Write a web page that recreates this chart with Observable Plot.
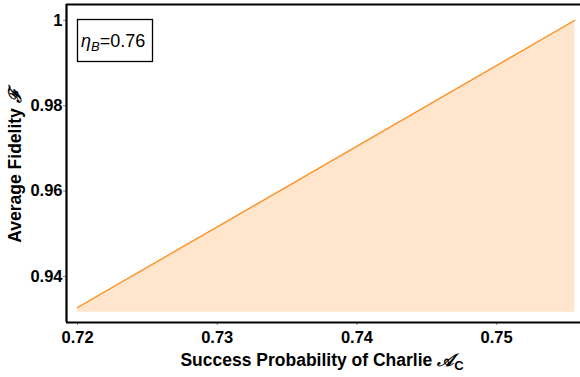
<!DOCTYPE html>
<html>
<head>
<meta charset="utf-8">
<script src="https://cdn.jsdelivr.net/npm/d3@7"></script>
<script src="https://cdn.jsdelivr.net/npm/@observablehq/plot@0.6"></script>
<style>
  html, body { margin: 0; padding: 0; background: #fff; }
  #chart { position: relative; width: 580px; height: 377px; }
  svg { font-family: "Liberation Sans", Arial, sans-serif; }
</style>
</head>
<body>
<div id="chart"></div>
<script>
// Data
const successProb = [0.72, 0.7556];
const fidelity = [0.9327, 1.0];
const fillBase = 0.9316;
const xTicks = [0.72, 0.73, 0.74, 0.75];
const yTicks = [0.94, 0.96, 0.98, 1];
const yTickLabels = ["0.94", "0.96", "0.98", "1"];
const legendLabel = { sym: "η", sub: "B", rest: "=0.76" };

const xDomain = [0.71921, 0.7560];
const yDomain = [0.9292, 1.0037];

const rows = successProb.map((x, i) => ({ x, y: fidelity[i] }));

const plot = Plot.plot({
  width: 580,
  height: 377,
  marginLeft: 66,
  marginRight: 0,
  marginTop: 4,
  marginBottom: 55,
  style: { fontFamily: "Liberation Sans, Arial, sans-serif", background: "#fff" },
  x: { domain: xDomain, label: null, axis: null },
  y: { domain: yDomain, label: null, axis: null },
  marks: [
    Plot.areaY(rows, { x: "x", y1: fillBase, y2: "y", fill: "#fee5cc" }),
    Plot.line(rows, { x: "x", y: "y", stroke: "#ff8c1a", strokeWidth: 1.3 }),
    Plot.axisX(xTicks, {
      tickSize: 3, tickFormat: d => String(d), stroke: "#888",
      fontSize: 16.5, fontWeight: "bold", fill: "#000", tickPadding: 6, label: null
    }),
    Plot.axisY(yTicks, {
      tickSize: 3, tickFormat: (d, i) => yTickLabels[i], stroke: "#888",
      fontSize: 16.5, fontWeight: "bold", fill: "#000", tickPadding: 1, label: null
    }),
    Plot.ruleX([xDomain[0]], { stroke: "#000", strokeWidth: 2.2 }),
    Plot.ruleY([yDomain[0]], { stroke: "#000", strokeWidth: 2.2 }),
    Plot.ruleY([yDomain[1]], { stroke: "#000", strokeWidth: 2.2 })
  ]
});

document.getElementById("chart").appendChild(plot);

const svg = d3.select(plot);
// x axis label
const xl = svg.append("text")
  .attr("x", 322).attr("y", 366)
  .attr("text-anchor", "middle")
  .attr("font-size", 17.5).attr("font-weight", "bold")
  .attr("fill", "#000");
xl.append("tspan").text("Success Probability of Charlie ");
xl.append("tspan").attr("font-style", "italic").text("𝒜");
xl.append("tspan").attr("font-size", 13).attr("dy", 4).text("C");

// y axis label
const yl = svg.append("text")
  .attr("transform", "translate(21,166) rotate(-90)")
  .attr("text-anchor", "middle")
  .attr("font-size", 17.5).attr("font-weight", "bold")
  .attr("fill", "#000");
yl.append("tspan").text("Average Fidelity ");
yl.append("tspan").attr("font-style", "italic").text("ℱ");

// legend box
svg.append("rect")
  .attr("x", 77.5).attr("y", 19.5).attr("width", 75).attr("height", 42)
  .attr("fill", "#fff").attr("stroke", "#000").attr("stroke-width", 1.3);
const lt = svg.append("text")
  .attr("x", 81).attr("y", 47)
  .attr("text-anchor", "start")
  .attr("font-size", 18).attr("fill", "#000");
lt.append("tspan").attr("font-style", "italic").text(legendLabel.sym);
lt.append("tspan").attr("font-style", "italic").attr("font-size", 13).attr("dy", 4).text(legendLabel.sub);
lt.append("tspan").attr("dy", -4).text(legendLabel.rest);
</script>
</body>
</html>
